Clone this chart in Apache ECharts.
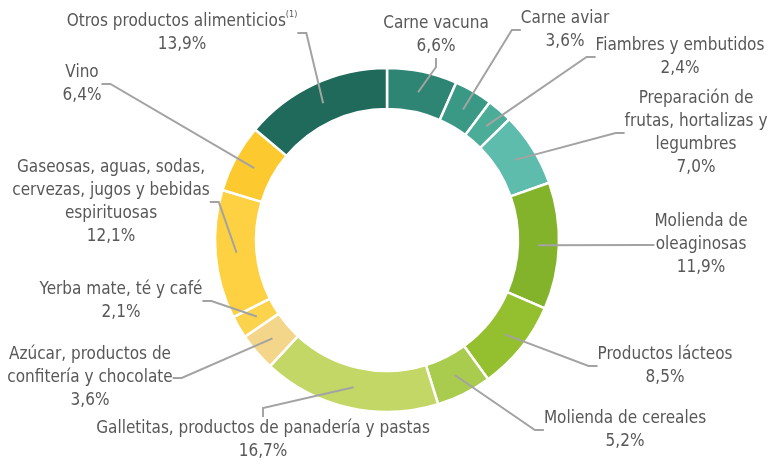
<!DOCTYPE html>
<html>
<head>
<meta charset="utf-8">
<script src="https://cdn.jsdelivr.net/npm/echarts@6/dist/echarts.min.js"></script>
<style>
  html, body { margin: 0; padding: 0; background: #fff; }
  #chart { width: 769px; height: 461px; }
</style>
</head>
<body>
<div id="chart"></div>
<script>
    const categories = [
        'Carne vacuna',
        'Carne aviar',
        'Fiambres y embutidos',
        'Preparación de\nfrutas, hortalizas y\nlegumbres',
        'Molienda de\noleaginosas',
        'Productos lácteos',
        'Molienda de cereales',
        'Galletitas, productos de panadería y pastas',
        'Azúcar, productos de\nconfitería y chocolate',
        'Yerba mate, té y café',
        'Gaseosas, aguas, sodas,\ncervezas, jugos y bebidas\nespirituosas',
        'Vino',
        'Otros productos alimenticios{sup|(1)}'
    ];
    const shares = [6.6, 3.6, 2.4, 7.0, 11.9, 8.5, 5.2, 16.7, 3.6, 2.1, 12.1, 6.4, 13.9];
    const colors = ['#2f8574', '#3a9985', '#4bac98', '#5ebcac', '#83b22b', '#94c02f', '#a9cc4e',
        '#c3d766', '#f4d68b', '#fcd34c', '#fdd141', '#fcc92e', '#1f6a5b'];

    // where each label block is centred on the page
    const labelPos = [[436, 35], [565, 30], [680, 57], [696, 133], [701, 245], [665, 366], [625, 430],
        [263, 440], [90, 378], [121, 301], [111, 202], [82, 84], [182, 33]];

    const chart = echarts.init(document.getElementById('chart'));

    const pieData = categories.map(function (c, i) {
        const d = {name: c, value: shares[i]};
        // the long bottom label gets cut otherwise
        if (i === 7) d.label = {width: 334};
        return d;
    });

    const labelFont = '"Liberation Sans Narrow", "DejaVu Sans Condensed", "Roboto", sans-serif';

    const option = {
        animation: false,
        color: colors,
        series: [
            {
                // the ring itself
                type: 'pie',
                center: [387, 240],
                radius: [131, 172],
                startAngle: 90,
                silent: true,
                itemStyle: {borderColor: '#fff', borderWidth: 2.5},
                label: {show: false},
                labelLine: {show: false},
                data: pieData
            },
            {
                // invisible pie that carries labels, its edge sits mid-ring
                type: 'pie',
                center: [387, 240],
                radius: [0, 151],
                startAngle: 90,
                silent: true,
                z: 5,
                itemStyle: {color: 'rgba(0,0,0,0)'},
                label: {
                    show: true,
                    fontFamily: labelFont,
                    fontSize: 17,
                    lineHeight: 23,
                    color: '#585858',
                    align: 'center',
                    overflow: 'none',
                    formatter: function (p) {
                        return p.name + '\n' + p.value.toFixed(1).replace('.', ',') + '%';
                    },
                    rich: {
                        sup: {fontSize: 9, verticalAlign: 'top', lineHeight: 14, color: '#585858', fontFamily: labelFont}
                    }
                },
                labelLine: {show: true, length: 10, length2: 9, lineStyle: {color: '#a3a3a3', width: 2}},
                labelLayout: function (params) {
                    const pos = labelPos[params.dataIndex];
                    return {x: pos[0], y: pos[1], align: 'center', verticalAlign: 'middle'};
                },
                data: pieData
            }
        ]
    };

    chart.setOption(option);
</script>
</body>
</html>
